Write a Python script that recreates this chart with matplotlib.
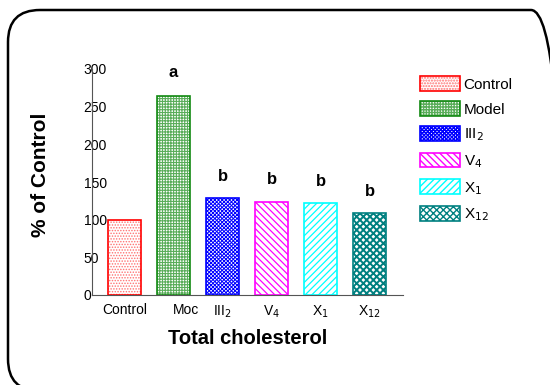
import matplotlib as mpl
import matplotlib.pyplot as plt
import matplotlib.transforms as mtransforms
from matplotlib.patches import FancyBboxPatch, Patch

plt.rcParams['font.family'] = ['Liberation Sans', 'DejaVu Sans']

groups = ["Control", "Model", "III$_2$", "V$_4$", "X$_1$", "X$_{12}$"]
tick_labels = ["Control", "Moc", "III$_2$", "V$_4$", "X$_1$", "X$_{12}$"]
values = [100, 264, 129, 123.5, 122, 109]
letters = ["", "a", "b", "b", "b", "b"]
letter_y = [0, 296, 157, 153, 150, 138]
colors = ["#ff0000", "#138a13", "#0000ff", "#ff00ff", "#00ffff", "#008080"]
hatch_colors = ["#ff7070", "#5aad5a", "#0000ff", "#ff00ff", "#00ffff", "#008080"]
hatches = ["......", "++++++", "xxxxxxxxx", "\\\\\\\\\\", "/////", "xxxxx"]
hatch_lw = [0.7, 0.8, 0.7, 0.9, 0.9, 1.4]

fig = plt.figure(figsize=(5.5, 3.85), dpi=100)

# rounded frame, right and bottom edges run off the picture
frame = FancyBboxPatch((0.08, -0.06), 5.55, 3.81,
                       boxstyle="round,pad=0,rounding_size=0.32",
                       transform=fig.dpi_scale_trans, fill=False,
                       edgecolor="black", linewidth=1.8, clip_on=False)
fig.patches.append(frame)

ax = fig.add_axes([92 / 550, 1 - 295 / 385, (403 - 92) / 550, (295 - 69) / 385])
handles = []
for i in range(len(groups)):
    with mpl.rc_context({"hatch.linewidth": hatch_lw[i]}):
        ax.bar(i, values[i], width=0.67, color="white", edgecolor=hatch_colors[i],
               hatch=hatches[i], linewidth=0)
        h1 = Patch(facecolor="white", edgecolor=hatch_colors[i], hatch=hatches[i], linewidth=0)
    ax.bar(i, values[i], width=0.67, fill=False, edgecolor=colors[i], linewidth=1.2)
    h2 = Patch(fill=False, edgecolor=colors[i], linewidth=1.2)
    handles.append((h1, h2))

for i, (t, yy) in enumerate(zip(letters, letter_y)):
    if t:
        ax.text(i, yy, t, ha="center", va="center", fontsize=12, fontweight="bold")

ax.set_xlim(-0.663, 5.68)
ax.set_ylim(0, 300)
ax.set_yticks([0, 50, 100, 150, 200, 250, 300])
ax.tick_params(axis="y", length=0, pad=6, labelsize=10)
for lab in ax.get_yticklabels():
    lab.set_horizontalalignment("left")
ax.set_xticks(range(len(groups)))
ax.set_xticklabels(tick_labels, fontsize=10)
ax.tick_params(axis="x", length=0, pad=6)
moc = ax.get_xticklabels()[1]
moc.set_transform(moc.get_transform() + mtransforms.ScaledTranslation(0.12, 0, fig.dpi_scale_trans))
for s in ["top", "right"]:
    ax.spines[s].set_visible(False)
ax.spines["left"].set_color("#555555")
ax.spines["bottom"].set_color("#555555")

ax.set_xlabel("Total cholesterol", fontsize=14.5, fontweight="bold", labelpad=7)
fig.text(40 / 550, 1 - 175 / 385, "% of Control", rotation=90, ha="center", va="center",
         fontsize=15, fontweight="bold")

fig.legend(handles, groups, loc="upper left", bbox_to_anchor=(420 / 550, 1 - 76 / 385),
           frameon=False, fontsize=11, handlelength=2.6, handleheight=1.1,
           handletextpad=0.25, labelspacing=0.62, borderaxespad=0, borderpad=0)

fig.savefig("out.png", dpi=100)
